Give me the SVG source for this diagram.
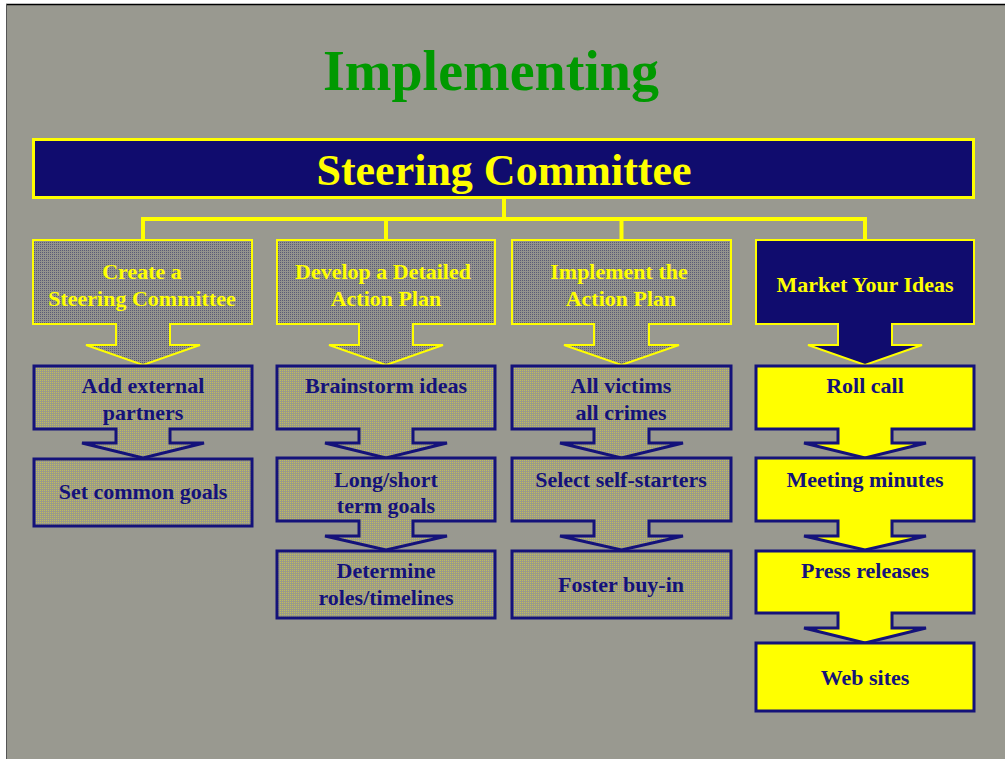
<svg xmlns="http://www.w3.org/2000/svg" width="1005" height="759" viewBox="0 0 1005 759">
  <style>
    .t { font-family: "Liberation Serif", "Times New Roman", serif; font-weight: bold; text-anchor: middle; }
    .bt { font-size: 22px; }
    .ytxt { fill: #ffff00; }
    .ntxt { fill: #14127a; }
    .top { fill: url(#pNavy); stroke: #ffff00; stroke-width: 2; }
    .topDark { fill: #100c6e; stroke: #ffff00; stroke-width: 2; }
    .low { fill: url(#pYel); stroke: #14127a; stroke-width: 3; }
    .lowY { fill: #ffff00; stroke: #14127a; stroke-width: 3; }
    .conn { stroke: #ffff00; stroke-width: 4; fill: none; }
  </style>
  <defs>
    <pattern id="pNavy" width="2" height="2" patternUnits="userSpaceOnUse">
      <rect width="2" height="2" fill="#93938d"/>
      <rect width="1" height="1" fill="#5a5a76"/>
    </pattern>
    <pattern id="pYel" width="2" height="2" patternUnits="userSpaceOnUse">
      <rect width="2" height="2" fill="#9a9a8a"/>
      <rect width="1" height="1" fill="#c0be5a"/>
    </pattern>
  </defs>

  <rect x="0" y="0" width="1005" height="759" fill="#ffffff"/>
  <rect x="7" y="5" width="998" height="754" fill="#999990"/>
  <line x1="6" y1="4.5" x2="1005" y2="4.5" stroke="#000000" stroke-width="1.5"/>
  <line x1="6.5" y1="4" x2="6.5" y2="759" stroke="#555555" stroke-width="1"/>

  <text class="t" x="491" y="90" font-size="56" fill="#009900">Implementing</text>

  <g id="connectors">
    <line class="conn" x1="504" y1="198" x2="504" y2="219"/>
    <line class="conn" x1="142" y1="219" x2="866" y2="219"/>
    <line class="conn" x1="143" y1="217" x2="143" y2="240"/>
    <line class="conn" x1="386" y1="217" x2="386" y2="240"/>
    <line class="conn" x1="621.5" y1="217" x2="621.5" y2="240"/>
    <line class="conn" x1="865" y1="217" x2="865" y2="240"/>
  </g>

  <g id="steering-committee">
    <rect x="33.5" y="139.5" width="940" height="58" fill="#100c6e" stroke="#ffff00" stroke-width="3"/>
    <text class="t ytxt" x="504" y="185" font-size="44">Steering Committee</text>
  </g>

  <!-- Column 1 -->
  <g id="create-committee">
    <path class="top" d="M33 240 H252 V324 H170 V345 H200 L143 365 L86 345 H116 V324 H33 Z"/>
    <text class="t bt ytxt" x="142" y="279">Create a</text>
    <text class="t bt ytxt" x="142" y="306">Steering Committee</text>
  </g>
  <g id="add-partners">
    <path class="low" d="M34 366 H252 V429 H170 V443 H204 L143 458 L82 443 H116 V429 H34 Z"/>
    <text class="t bt ntxt" x="143" y="393">Add external</text>
    <text class="t bt ntxt" x="143" y="420">partners</text>
  </g>
  <g id="common-goals">
    <rect class="low" x="34" y="459" width="218" height="67"/>
    <text class="t bt ntxt" x="143" y="499">Set common goals</text>
  </g>

  <!-- Column 2 -->
  <g id="action-plan">
    <path class="top" d="M277 240 H495 V324 H413 V345 H443 L386 365 L329 345 H359 V324 H277 Z"/>
    <text class="t bt ytxt" x="383" y="279">Develop a Detailed</text>
    <text class="t bt ytxt" x="386" y="306">Action Plan</text>
  </g>
  <g id="brainstorm">
    <path class="low" d="M277 366 H495 V429 H413 V443 H447 L386 458 L325 443 H359 V429 H277 Z"/>
    <text class="t bt ntxt" x="386" y="393">Brainstorm ideas</text>
  </g>
  <g id="long-short">
    <path class="low" d="M277 458 H495 V521 H413 V536 H447 L386 550 L325 536 H359 V521 H277 Z"/>
    <text class="t bt ntxt" x="386" y="487">Long/short</text>
    <text class="t bt ntxt" x="386" y="513">term goals</text>
  </g>
  <g id="roles-timelines">
    <rect class="low" x="277" y="551" width="218" height="67"/>
    <text class="t bt ntxt" x="386" y="578">Determine</text>
    <text class="t bt ntxt" x="386" y="605">roles/timelines</text>
  </g>

  <!-- Column 3 -->
  <g id="implement-plan">
    <path class="top" d="M512 240 H731 V324 H649 V345 H679 L621.5 365 L564 345 H594 V324 H512 Z"/>
    <text class="t bt ytxt" x="619" y="279">Implement the</text>
    <text class="t bt ytxt" x="621" y="306">Action Plan</text>
  </g>
  <g id="all-victims">
    <path class="low" d="M512 366 H731 V429 H649 V443 H683 L621.5 458 L560 443 H594 V429 H512 Z"/>
    <text class="t bt ntxt" x="621" y="393">All victims</text>
    <text class="t bt ntxt" x="621" y="420">all crimes</text>
  </g>
  <g id="self-starters">
    <path class="low" d="M512 458 H731 V521 H649 V536 H683 L621.5 550 L560 536 H594 V521 H512 Z"/>
    <text class="t bt ntxt" x="621" y="487">Select self-starters</text>
  </g>
  <g id="buy-in">
    <rect class="low" x="512" y="551" width="219" height="67"/>
    <text class="t bt ntxt" x="621" y="592">Foster buy-in</text>
  </g>

  <!-- Column 4 -->
  <g id="market-ideas">
    <path class="topDark" d="M756 240 H974 V324 H892 V345 H922 L865 365 L808 345 H838 V324 H756 Z"/>
    <text class="t bt ytxt" x="865" y="292">Market Your Ideas</text>
  </g>
  <g id="roll-call">
    <path class="lowY" d="M756 366 H974 V429 H892 V443 H926 L865 458 L804 443 H838 V429 H756 Z"/>
    <text class="t bt ntxt" x="865" y="393">Roll call</text>
  </g>
  <g id="meeting-minutes">
    <path class="lowY" d="M756 458 H974 V521 H892 V536 H926 L865 550 L804 536 H838 V521 H756 Z"/>
    <text class="t bt ntxt" x="865" y="487">Meeting minutes</text>
  </g>
  <g id="press-releases">
    <path class="lowY" d="M756 551 H974 V613 H892 V628 H926 L865 643 L804 628 H838 V613 H756 Z"/>
    <text class="t bt ntxt" x="865" y="578">Press releases</text>
  </g>
  <g id="web-sites">
    <rect class="lowY" x="756" y="643" width="218" height="68"/>
    <text class="t bt ntxt" x="865" y="685">Web sites</text>
  </g>
</svg>
